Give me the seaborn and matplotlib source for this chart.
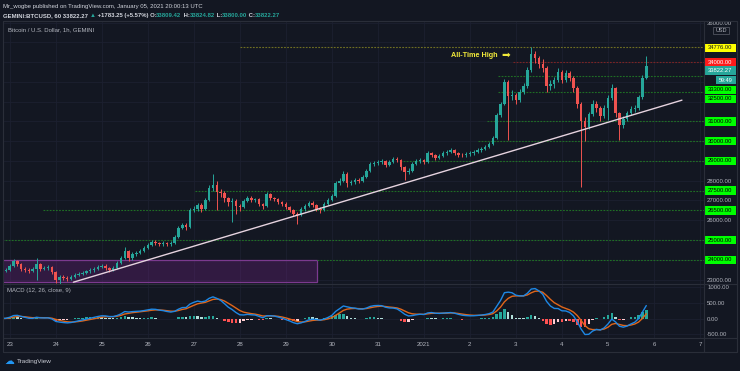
import numpy as np
import pandas as pd
import matplotlib
matplotlib.use("Agg")
import matplotlib.pyplot as plt
import seaborn as sns
from matplotlib.patches import Rectangle

sns.set_theme(style="dark")
plt.rcParams['font.family'] = ['Liberation Sans', 'DejaVu Sans']

# ---------------- data (2-hour candles, GEMINI BTC/USD) ----------------
start_time = '2020-12-22 20:00'
first_open = 23400
closes = [23450, 23500, 23700, 23950, 23800, 23550, 23500, 23450, 23550, 23800,
          23550, 23600, 23650, 23400, 22980, 23150, 23100, 23050, 23150, 23250,
          23300, 23350, 23420, 23470, 23550, 23650, 23700, 23600, 23500, 23600,
          23850, 24100, 24450, 24080, 24300, 24350, 24450, 24600, 24750, 24900,
          24850, 24780, 24850, 24800, 24850, 25150, 25600, 25750, 25650, 26500,
          26550, 26750, 26550, 27000, 27650, 27800, 27450, 27400, 27100, 26900,
          26950, 26700, 26650, 26950, 27150, 27000, 27050, 26800, 26700, 27350,
          27100, 27050, 26900, 26800, 26650, 26500, 26300, 26250, 26550, 26700,
          26850, 26750, 26580, 26500, 26800, 27000, 27250, 27900, 28000, 28350,
          27900, 27920, 28050, 28000, 28200, 28500, 28850, 28900, 28950, 29000,
          28800, 28950, 29120, 29050, 28700, 28450, 28500, 28850, 29000, 29050,
          28950, 29380, 29300, 29150, 29250, 29380, 29450, 29540, 29400, 29300,
          29280, 29350, 29380, 29450, 29540, 29600, 29710, 29850, 30150, 31300,
          31900, 33000, 32300, 32330, 32100, 32500, 32800, 33600, 34400, 34200,
          33900, 33700, 32800, 32900, 33100, 33500, 33100, 33450, 33200, 32700,
          31900, 31000, 30700, 31350, 31900, 31700, 31250, 31700, 32200, 32700,
          31400, 30800, 31100, 31400, 31650, 31700, 32250, 33200, 33822.27]
highs = [23550, 23600, 23800, 24050, 24000, 23850, 23650, 23600, 23650, 24090,
         23850, 23700, 23750, 23700, 23450, 23250, 23250, 23200, 23250, 23350,
         23400, 23450, 23500, 23560, 23650, 23750, 23800, 23780, 23650, 23700,
         23950, 24200, 24650, 24500, 24400, 24450, 24550, 24700, 24850, 25000,
         24980, 24920, 24950, 24920, 24950, 25250, 25700, 25850, 25850, 26600,
         26700, 26850, 26850, 27100, 27800, 28360, 28000, 27600, 27500, 27200,
         27100, 27050, 26800, 27050, 27250, 27250, 27150, 27100, 26850, 27450,
         27400, 27200, 27100, 26950, 26900, 26700, 26550, 26400, 26650, 26800,
         26950, 26950, 26800, 26650, 26900, 27100, 27350, 28000, 28150, 28500,
         28450, 28050, 28150, 28150, 28300, 28600, 28950, 29000, 29050, 29100,
         29050, 29050, 29200, 29200, 29100, 28750, 28650, 28950, 29100, 29150,
         29100, 29480, 29450, 29350, 29350, 29480, 29550, 29650, 29600, 29450,
         29400, 29450, 29480, 29550, 29650, 29700, 29800, 29950, 30250, 31400,
         32000, 33150, 33100, 32600, 32450, 32650, 32950, 33750, 34776, 34550,
         34300, 34150, 33800, 33100, 33250, 33700, 33600, 33600, 33550, 33300,
         32800, 32000, 31200, 31500, 32100, 32050, 31800, 31850, 32350, 32900,
         32750, 31500, 31250, 31550, 31800, 31850, 32350, 33350, 34300]
lows = [23300, 23380, 23450, 23650, 23700, 23450, 23400, 23350, 23400, 22965,
        23450, 23480, 23500, 23300, 22850, 22800, 23000, 22950, 22980, 23100,
        23180, 23250, 23280, 23350, 23400, 23480, 23580, 23500, 23400, 23420,
        23550, 23800, 24050, 23950, 24000, 24200, 24280, 24400, 24550, 24700,
        24750, 24680, 24700, 24700, 24720, 24800, 25100, 25550, 25500, 25600,
        26400, 26450, 26400, 26500, 26950, 27500, 26500, 27200, 26900, 26700,
        25910, 26300, 26450, 26600, 26900, 26900, 26900, 26700, 26550, 26650,
        27000, 26950, 26800, 26700, 26550, 26400, 26200, 25830, 26200, 26450,
        26650, 26650, 26450, 26350, 26450, 26750, 26950, 27200, 27800, 27950,
        27700, 27800, 27850, 27900, 27950, 28150, 28450, 28750, 28800, 28850,
        28700, 28750, 28900, 28950, 28550, 28020, 28350, 28450, 28800, 28900,
        28850, 28900, 29200, 29050, 29100, 29200, 29300, 29400, 29300, 29200,
        29180, 29200, 29250, 29300, 29400, 29450, 29550, 29650, 29800, 30100,
        31200, 31850, 30050, 32100, 31900, 32000, 32400, 32700, 33500, 33950,
        33700, 33500, 32500, 32600, 32700, 33000, 32950, 33000, 33050, 32500,
        31700, 27700, 30000, 30600, 31250, 31500, 31000, 31150, 31050, 32100,
        31200, 30050, 30650, 31000, 31300, 31500, 31600, 32150, 33150]

# horizontal levels: price, start time, kind
level_prices = [34776, 34000, 33300, 32500, 31000, 30000, 29000, 27500, 26500, 25000, 24000]
level_starts = ['2020-12-28 00:06', '2021-01-02 22:30', '2021-01-02 14:40', '2021-01-02 14:40',
                '2021-01-02 08:55', '2021-01-02 04:10', '2020-12-31 11:30', '2020-12-27 00:35',
                '2020-12-23 17:25', '2020-12-22 20:00', '2020-12-29 16:20']
level_kinds = ['ath', 'res', 'g', 'g', 'g', 'g', 'g', 'g', 'g', 'g', 'g']
label_nudge_px = [1, 0, 14, 7, 0, 0, 0, 0, 0, 0, 0]

last_price = 33822.27
countdown = '59:49'

trend_times = ['2020-12-24 09:12', '2021-01-06 14:36']
trend_prices = [22865, 32074]

box_times = ['2020-12-22 20:00', '2020-12-29 16:20']
box_prices = [22900, 24000]

ath_text_time, ath_text_price = '2021-01-01 14:00', 34350
arrow_time = '2021-01-02 16:40'

day_labels = ['23', '24', '25', '26', '27', '28', '29', '30', '31', '2021', '2', '3', '4', '5', '6', '7']
price_ticks = list(range(23000, 37000, 1000))
# gray axis labels that are not hidden behind a level label
price_tick_labels = ['23000.00', '', '', '26000.00', '27000.00', '28000.00', '', '', '', '', '', '', '',
                     '36000.00']
macd_ticks = [-500, 0, 500, 1000]

# ---------------- style ----------------
BG = '#131722'
GRID = '#1c2030'
FRAME = '#2a2e39'
TXT = '#b2b5be'
UP, DN = '#26a69a', '#ef5350'
W, H = 740, 371

t0 = pd.Timestamp('2020-12-23 00:00')
def hours(t):
    return (pd.to_datetime(t) - t0) / pd.Timedelta(hours=1)

times = pd.date_range(start_time, periods=len(closes), freq='2h')
hrs = np.asarray(hours(times), dtype=float)
opens = [first_open] + closes[:-1]
df = pd.DataFrame({'t': hrs, 'open': opens, 'close': closes, 'high': highs, 'low': lows})

# MACD (12, 26, 9 on hourly -> same time constants on 2-hour bars)
s = df['close']
macd = s.ewm(span=6, adjust=False).mean() - s.ewm(span=13, adjust=False).mean()
signal = macd.ewm(span=4.5, adjust=False).mean()
hist = macd - signal
prev = hist.shift(1).fillna(0)
hcol = np.where(hist >= 0, np.where(hist >= prev, '#26a69a', '#b2dfdb'),
                np.where(hist < prev, '#ff5252', '#ffcdd2'))

fig = plt.figure(figsize=(W / 100, H / 100), dpi=100, facecolor=BG)

def fbox(x0, y0, x1, y1):
    return [x0 / W, 1 - y1 / H, (x1 - x0) / W, (y1 - y0) / H]

ax = fig.add_axes(fbox(3, 21, 704, 283.5))
axm = fig.add_axes(fbox(3, 283.5, 704, 338), sharex=ax)
XL = (-3.5, 362.1)
for a in (ax, axm):
    a.set_facecolor(BG)
    for sp in a.spines.values():
        sp.set_visible(False)
ax.set_xlim(*XL)
ax.set_ylim(22800, 36078)
axm.set_ylim(-623, 1119)

day_hours = [24 * i for i in range(len(day_labels))]
for a in (ax, axm):
    a.set_xticks(day_hours)
    a.grid(True, color=GRID, lw=0.6)
    a.tick_params(length=0)

ax.yaxis.tick_right()
ax.set_yticks(price_ticks)
ax.set_yticklabels(price_tick_labels)
ax.tick_params(axis='y', colors=TXT, labelsize=4.3, pad=2.2)
ax.tick_params(axis='x', labelbottom=False)

axm.yaxis.tick_right()
axm.set_yticks(macd_ticks)
axm.set_yticklabels([f'{v:.2f}' for v in macd_ticks])
axm.tick_params(axis='y', colors=TXT, labelsize=4.3, pad=2.2)
axm.set_xticklabels(day_labels)
axm.tick_params(axis='x', colors=TXT, labelsize=4.4, pad=3.0)

# purple box
bx0, bx1 = hours(box_times[0]), hours(box_times[1])
ax.add_patch(Rectangle((bx0, box_prices[0]), bx1 - bx0, box_prices[1] - box_prices[0],
                       facecolor='#9c27b0', alpha=0.22, edgecolor='none', zorder=1))
ax.add_patch(Rectangle((bx0, box_prices[0]), bx1 - bx0, box_prices[1] - box_prices[0],
                       facecolor='none', edgecolor='#7b3a8f', lw=0.9, zorder=1))

# levels
lev_color = {'ath': '#6f6f22', 'res': '#7a2424', 'g': '#1f6e24'}
for p, st, k in zip(level_prices, level_starts, level_kinds):
    ax.hlines(p, hours(st), XL[1], colors=lev_color[k], lw=0.8, linestyles=(0, (1.6, 1.2)), zorder=2)

# candles
up = df['close'] >= df['open']
col = np.where(up, UP, DN)
body = (df['close'] - df['open']).to_numpy()
body = np.where(np.abs(body) < 25, np.where(body >= 0, 25, -25), body)
ax.vlines(df['t'], df['low'], df['high'], colors=col, lw=0.7, zorder=3)
ax.bar(df['t'], body, bottom=df['open'], width=1.3, color=col, linewidth=0, zorder=4)

# trend line
tdf = pd.DataFrame({'t': [hours(t) for t in trend_times], 'p': trend_prices})
sns.lineplot(data=tdf, x='t', y='p', ax=ax, color='#e6d3df', lw=1.0, zorder=5)

# All-time-high annotation
ax.text(hours(ath_text_time), ath_text_price, 'All-Time High', color='#f2ea3a',
        fontsize=5.2, fontweight='bold', va='center', ha='left', zorder=6)
ax.text(hours(arrow_time), ath_text_price, '\u27a1', color='#f2ea3a', fontsize=7.5,
        va='center', ha='left', family='DejaVu Sans', zorder=6)

# MACD pane
axm.bar(df['t'], hist, width=1.3, color=hcol, linewidth=0, zorder=2)
mdf = pd.DataFrame({'t': hrs, 'macd': macd, 'signal': signal})
sns.lineplot(data=mdf, x='t', y='macd', ax=axm, color='#1e88e5', lw=1.0, zorder=4)
sns.lineplot(data=mdf, x='t', y='signal', ax=axm, color='#e0661a', lw=1.0, zorder=3)
for a in (ax, axm):
    a.set_xlabel('')
    a.set_ylabel('')
ax.set_xlim(*XL)

# ---------------- overlay (frame, labels, header) ----------------
ov = fig.add_axes([0, 0, 1, 1])
ov.set_xlim(0, W)
ov.set_ylim(H, 0)
ov.axis('off')
ov.patch.set_alpha(0)
ov.set_zorder(10)

for (x0, y0, x1, y1) in [(3, 21, 737, 21), (3, 352, 737, 352), (3, 21, 3, 352), (737, 21, 737, 352),
                         (704, 21, 704, 352), (3, 283.5, 737, 283.5), (3, 338, 737, 338)]:
    ov.plot([x0, x1], [y0, y1], color=FRAME, lw=0.8)

def py(price):
    return H - ax.transData.transform((0, price))[1]

box_style = {'ath': ('#ffff00', '#131722'), 'res': ('#ff1a1a', '#ffffff'), 'g': ('#00ff00', '#000000')}
for p, k, nd in zip(level_prices, level_kinds, label_nudge_px):
    yy = py(p) + nd
    fc, tc = box_style[k]
    ov.add_patch(Rectangle((704.5, yy - 4.2), 31.5, 8.4, facecolor=fc, edgecolor='none'))
    ov.text(720.2, yy, f'{p:.2f}', color=tc, fontsize=4.2, ha='center', va='center')

yl = py(last_price) + 5
ov.add_patch(Rectangle((704.5, yl - 4.2), 31.5, 8.4, facecolor='#26a69a', edgecolor='none'))
ov.text(720.2, yl, f'{last_price:.2f}', color='white', fontsize=4.2, ha='center', va='center')
ov.add_patch(Rectangle((716, yl + 5.6), 20, 8.2, facecolor='#26a69a', edgecolor='none'))
ov.text(726, yl + 9.7, countdown, color='white', fontsize=4.0, ha='center', va='center')

# USD badge
ov.add_patch(Rectangle((713, 26.5), 16, 7.5, facecolor=BG, edgecolor='#50535e', lw=0.6))
ov.text(721, 30.3, 'USD', color=TXT, fontsize=4.0, ha='center', va='center')

# header
ov.text(3, 6.5, 'Mr_wogbe published on TradingView.com, January 05, 2021 20:00:13 UTC',
        color='#d1d4dc', fontsize=4.3, va='center', ha='left')
renderer = fig.canvas.get_renderer()
parts = [('GEMINI:BTCUSD, 60 33822.27 ', '#d1d4dc'), ('\u25b2', '#26a69a'),
         (' +1783.25 (+5.57%) O:', '#d1d4dc'), ('33809.42', '#26a69a'), (' H:', '#d1d4dc'),
         ('33824.82', '#26a69a'), (' L:', '#d1d4dc'), ('33800.00', '#26a69a'), (' C:', '#d1d4dc'),
         ('33822.27', '#26a69a')]
xcur = 3
for txt, c in parts:
    t = ov.text(xcur, 15.5, txt, color=c, fontsize=4.3, fontweight='bold', va='center', ha='left',
                family=['Liberation Sans', 'DejaVu Sans'])
    bb = t.get_window_extent(renderer=renderer)
    xcur += bb.width

ov.text(7.5, 29.8, 'Bitcoin / U.S. Dollar, 1h, GEMINI', color=TXT, fontsize=4.3, va='center', ha='left')
ov.text(7, 290.3, 'MACD (12, 26, close, 9)', color=TXT, fontsize=4.3, va='center', ha='left')

# logo
ov.text(4, 361, '\u2601', color='#2196f3', fontsize=7, va='center', ha='left', family='DejaVu Sans')
ov.text(17, 361.5, 'TradingView', color='#c8cbd4', fontsize=4.6, va='center', ha='left')

fig.savefig('out.png', dpi=100, facecolor=BG)
